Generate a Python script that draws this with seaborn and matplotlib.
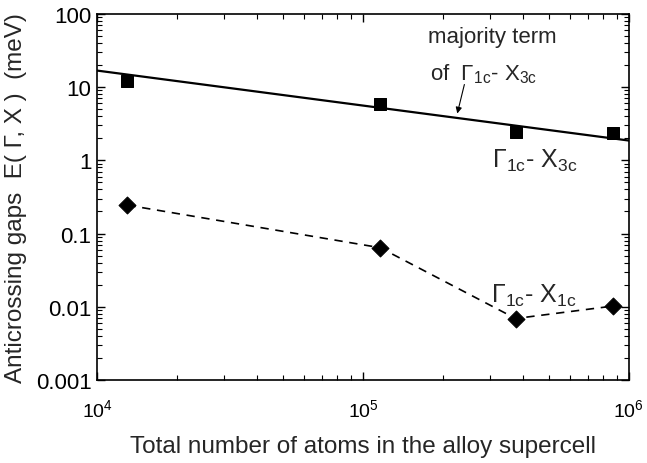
import matplotlib
matplotlib.use("Agg")
import matplotlib.pyplot as plt
import seaborn as sns
import numpy as np
import pandas as pd

# data
atoms = [13000, 116000, 375000, 870000]
gap_x3c = [12.0, 5.9, 2.4, 2.35]
gap_x1c = [0.244, 0.064, 0.0069, 0.0102]
fit_x = [1e4, 1e6]
fit_y = [16.8, 1.86]

xticks = [1e4, 1e5, 1e6]
xticklabels = ["10$^{4}$", "10$^{5}$", "10$^{6}$"]
yticks = [0.001, 0.01, 0.1, 1, 10, 100]
yticklabels = ["0.001", "0.01", "0.1", "1", "10", "100"]

sns.set_style("ticks")
plt.rcParams["font.family"] = ["Liberation Sans", "DejaVu Sans"]
plt.rcParams["mathtext.default"] = "regular"
plt.rcParams["mathtext.fontset"] = "custom"
plt.rcParams["mathtext.rm"] = "Liberation Sans"
plt.rcParams["mathtext.it"] = "Liberation Sans"

fig = plt.figure(figsize=(6.47, 4.64), dpi=100)
ax = fig.add_axes([0.150, 0.179, 0.822, 0.789])

df3 = pd.DataFrame({"N": atoms, "E": gap_x3c})
df1 = pd.DataFrame({"N": atoms, "E": gap_x1c})
dff = pd.DataFrame({"N": fit_x, "E": fit_y})

sns.lineplot(data=dff, x="N", y="E", ax=ax, color="black", lw=1.6)
sns.lineplot(data=df1, x="N", y="E", ax=ax, color="black", lw=1.2,
             linestyle=(0, (5, 4)))
sns.scatterplot(data=df3, x="N", y="E", ax=ax, marker="s", s=80,
                color="black", edgecolor="black", zorder=5)
sns.scatterplot(data=df1, x="N", y="E", ax=ax, marker="D", s=75,
                color="black", edgecolor="black", zorder=5)

ax.set_xscale("log")
ax.set_yscale("log")
ax.set_xlim(1e4, 1e6)
ax.set_ylim(0.001, 100)
ax.set_xticks(xticks)
ax.set_xticklabels(xticklabels)
ax.set_yticks(yticks)
ax.set_yticklabels(yticklabels)
ax.tick_params(which="both", direction="in", top=True, right=True,
               colors="black")
ax.tick_params(axis="y", labelsize=16, pad=4)
ax.tick_params(axis="x", labelsize=14, pad=13)
ax.tick_params(which="major", length=6, width=1)
ax.tick_params(which="minor", length=3.5, width=0.8)
for sp in ax.spines.values():
    sp.set_linewidth(1.2)
    sp.set_color("black")

ax.set_xlabel("Total number of atoms in the alloy supercell", fontsize=17.5,
              labelpad=11)
ax.set_ylabel("Anticrossing gaps  E( \u0393, X )  (meV)", fontsize=17.5,
              labelpad=6)

ax.text(0.744, 0.937, "majority term", transform=ax.transAxes, fontsize=16,
        ha="center", va="center")
ax.text(0.626, 0.822, "of  \u0393$_{1c}$- X$_{3c}$", transform=ax.transAxes,
        fontsize=16, ha="left", va="baseline")
ax.text(0.742, 0.582, "\u0393$_{1c}$- X$_{3c}$", transform=ax.transAxes,
        fontsize=18, ha="left", va="baseline")
ax.text(0.740, 0.213, "\u0393$_{1c}$- X$_{1c}$", transform=ax.transAxes,
        fontsize=18, ha="left", va="baseline")
ax.annotate("", xy=(2.25e5, 4.0), xytext=(2.42e5, 11.8),
            arrowprops=dict(arrowstyle="-|>", color="black", lw=0.8,
                            mutation_scale=9))

fig.savefig("out.png", dpi=100)
